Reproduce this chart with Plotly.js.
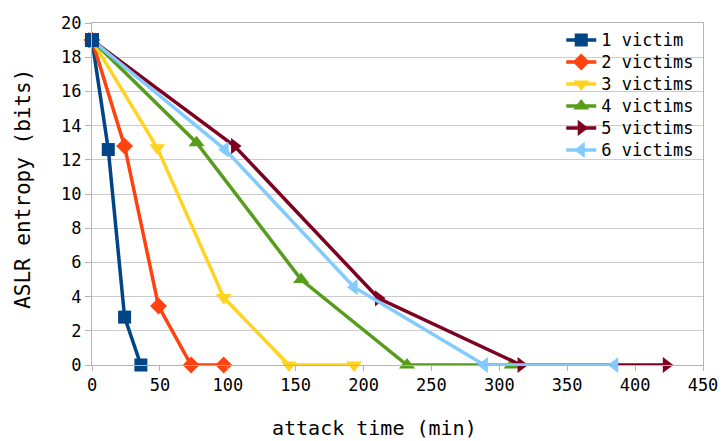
<!DOCTYPE html>
<html>
<head>
<meta charset="utf-8">
<script src="https://cdn.plot.ly/plotly-3.0.1.min.js"></script>
<style>html,body{margin:0;padding:0;background:#fff;}#chart{width:724px;height:441px;}</style>
</head>
<body>
<div id="chart"></div>
<script>
const seriesNames = ["1 victim", "2 victims", "3 victims", "4 victims", "5 victims", "6 victims"];
const x1 = [0, 12, 24, 36];
const y1 = [19, 12.6, 2.8, 0];
const x2 = [0, 24, 49, 73, 97];
const y2 = [19, 12.8, 3.45, 0, 0];
const x3 = [0, 48, 97, 145, 193];
const y3 = [19, 12.7, 3.95, 0, 0];
const x4 = [0, 77, 154, 232, 309];
const y4 = [19, 13, 5, 0, 0];
const x5 = [0, 105, 211, 316, 423];
const y5 = [19, 12.8, 3.9, 0, 0];
const x6 = [0, 98, 193, 289, 385];
const y6 = [19, 12.6, 4.55, 0, 0];
const xTicks = [0, 50, 100, 150, 200, 250, 300, 350, 400, 450];
const yTicks = [0, 2, 4, 6, 8, 10, 12, 14, 16, 18, 20];
const xTitle = "attack time (min)";
const yTitle = "ASLR entropy (bits)";

const colors = ["#004586", "#ff420e", "#ffd320", "#579d1c", "#7e0021", "#83caff"];
const symbols = ["square", "diamond", "triangle-down", "triangle-up", "triangle-right", "triangle-left"];
const sizes = [13, 13, 14, 14, 14, 14];
const xs = [x1, x2, x3, x4, x5, x6];
const ys = [y1, y2, y3, y4, y5, y6];

const traces = xs.map((x, i) => ({
  x: x, y: ys[i], name: '<span style="font-size:17px">' + seriesNames[i] + '</span>',
  type: "scatter", mode: "lines+markers",
  line: {color: colors[i], width: 3.5},
  marker: {color: colors[i], symbol: symbols[i], size: sizes[i]},
  cliponaxis: false
}));
// the first series' starting marker sits on top of the others in the reference
traces.push({
  x: x1.slice(0, 1), y: y1.slice(0, 1), type: "scatter", mode: "markers", showlegend: false,
  marker: {color: colors[0], symbol: symbols[0], size: sizes[0] + 1}, cliponaxis: false
});

const mono = "DejaVu Sans Mono";
const layout = {
  width: 724, height: 441,
  margin: {l: 92, r: 21, t: 23, b: 76},
  paper_bgcolor: "#fff", plot_bgcolor: "#fff",
  showlegend: true,
  legend: {x: 0.768, y: 0.997, xanchor: "left", yanchor: "top", bgcolor: "rgba(0,0,0,0)",
           font: {family: mono, size: 14.6, color: "#000"}, itemwidth: 30, tracegroupgap: 0},
  xaxis: {range: [0, 450], tickvals: xTicks, showgrid: false, zeroline: false,
          showline: true, linecolor: "#b3b3b3", linewidth: 1, mirror: true,
          ticks: "outside", ticklen: 5, tickcolor: "#b3b3b3",
          tickfont: {family: mono, size: 17, color: "#000"}},
  yaxis: {range: [0, 20], tickvals: yTicks, showgrid: true, gridcolor: "#cccccc", zeroline: false,
          showline: true, linecolor: "#b3b3b3", linewidth: 1, mirror: true,
          ticks: "outside", ticklen: 6, tickcolor: "#b3b3b3",
          tickfont: {family: mono, size: 17, color: "#000"}},
  annotations: [
    {text: xTitle, xref: "paper", yref: "paper", x: 0.463, y: 0, xanchor: "center", yanchor: "middle",
     yshift: -63, showarrow: false, font: {family: mono, size: 20, color: "#000"}},
    {text: yTitle, xref: "paper", yref: "paper", x: 0, y: 0.515, xanchor: "center", yanchor: "middle",
     xshift: -69, textangle: -90, showarrow: false, font: {family: mono, size: 21, color: "#000"}}
  ]
};
Plotly.newPlot("chart", traces, layout, {displayModeBar: false, staticPlot: true});
</script>
</body>
</html>
